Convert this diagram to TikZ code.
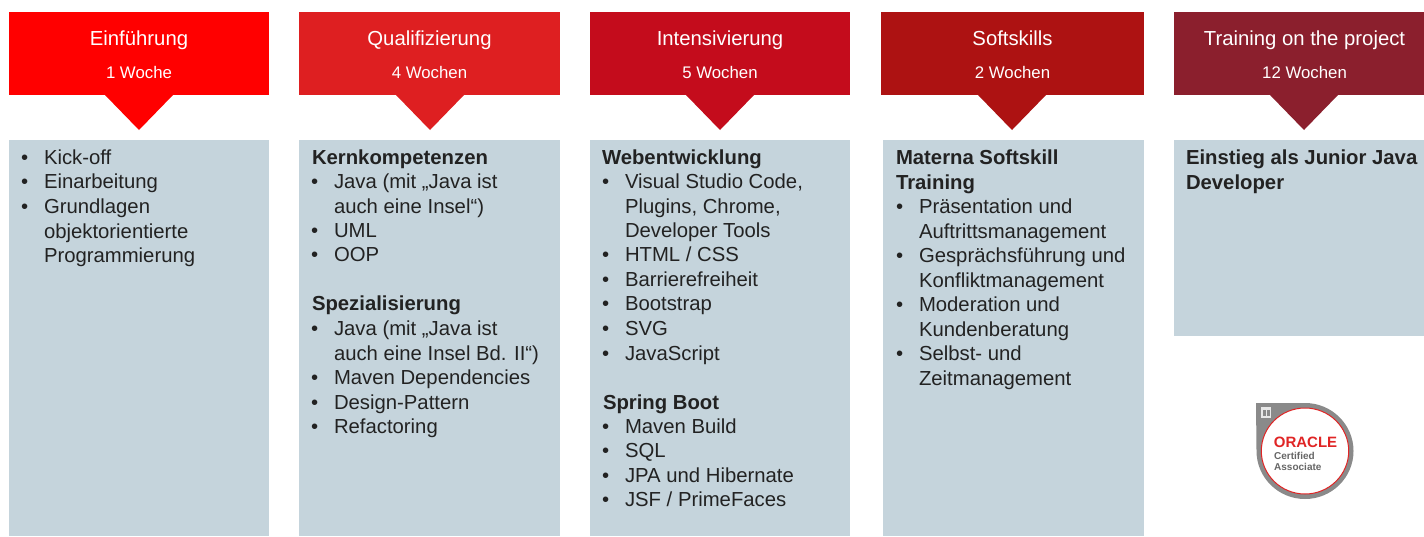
\documentclass[tikz,border=0pt]{standalone}
\usepackage{fontspec}
\setmainfont{Liberation Sans}
\definecolor{txt}{HTML}{222222}
\definecolor{panel}{HTML}{C5D4DC}
\definecolor{hA}{HTML}{FF0000}
\definecolor{hB}{HTML}{DE1F21}
\definecolor{hC}{HTML}{C40C1C}
\definecolor{hD}{HTML}{AD1212}
\definecolor{hE}{HTML}{8B1F2D}
\definecolor{badge}{HTML}{8A8A8A}
\definecolor{orared}{HTML}{E02525}
\newcount\lineno
\newcommand{\wl}[3]{\global\advance\lineno by 1 \node[bodytext] (t\the\lineno) at (#1,#2-0.2) {#3};}
\newcommand{\hl}[3]{\global\advance\lineno by 1 \node[bodytext,font=\fontsize{20.3}{24}\selectfont\bfseries] (t\the\lineno) at (#1,#2-0.2) {#3};}
\newcommand{\bu}[3]{\global\advance\lineno by 1 \node[bodytext] (b\the\lineno) at (#1,#2-0.2) {•};}
% column header: colour, left, right, tip x, title, duration
\newcommand{\colhead}[7]{%
  \fill[#2] (#3,12) rectangle (#4,95);
  \fill[#2] (#5-34,95) -- (#5+34,95) -- (#5,130) -- cycle;
  \node[headtitle] (#1title) at ({(#3+#4)/2},45.8) {#6};
  \node[headsub] (#1sub) at ({(#3+#4)/2},78) {#7};
}
\tikzset{
  x=1pt,y=-1pt,
  bodytext/.style={anchor=base west,inner sep=0pt,outer sep=0pt,text=txt,font=\fontsize{20.3}{24}\selectfont},
  headtitle/.style={anchor=base,inner sep=0pt,text=white,font=\fontsize{20.3}{24}\selectfont},
  headsub/.style={anchor=base,inner sep=0pt,text=white,font=\fontsize{16.8}{20}\selectfont},
}
\begin{document}
\begin{tikzpicture}
\useasboundingbox (0,0) rectangle (1424,536);
\fill[white] (0,0) rectangle (1424,536);
% panels
\fill[panel] (9,140) rectangle (269,536);
\fill[panel] (299,140) rectangle (560,536);
\fill[panel] (590,140) rectangle (850,536);
\fill[panel] (883,140) rectangle (1144,536);
\fill[panel] (1174,140) rectangle (1424,336);
% headers
\colhead{a}{hA}{9}{269}{139}{Einführung}{1 Woche}
\colhead{b}{hB}{299}{560}{430}{Qualifizierung}{4 Wochen}
\colhead{c}{hC}{590}{850}{720}{Intensivierung}{5 Wochen}
\colhead{d}{hD}{881}{1144}{1012}{Softskills}{2 Wochen}
\colhead{e}{hE}{1174}{1435}{1304}{Training on the project}{12 Wochen}
% column 1
\bu{21}{165}{}\wl{44}{165}{Kick-off}
\bu{21}{189}{}\wl{44}{189}{Einarbeitung}
\bu{21}{214}{}\wl{44}{214}{Grundlagen}
\wl{44}{239}{objektorientierte}
\wl{44}{263}{Programmierung}
% column 2
\hl{312}{165}{Kernkompetenzen}
\bu{311}{189}{}\wl{334}{189}{Java (mit „Java ist}
\wl{334}{214}{auch eine Insel“)}
\bu{311}{238}{}\wl{334}{238}{UML}
\bu{311}{262}{}\wl{334}{262}{OOP}
\hl{312}{311}{Spezialisierung}
\bu{311}{336}{}\wl{334}{336}{Java (mit „Java ist}
\wl{334}{361}{auch eine Insel Bd. II“)}
\bu{311}{385}{}\wl{334}{385}{Maven Dependencies}
\bu{311}{410}{}\wl{334}{410}{Design-Pattern}
\bu{311}{434}{}\wl{334}{434}{Refactoring}
% column 3
\hl{602}{165}{Webentwicklung}
\bu{602}{189}{}\wl{625}{189}{Visual Studio Code,}
\wl{625}{214}{Plugins, Chrome,}
\wl{625}{238}{Developer Tools}
\bu{602}{262}{}\wl{625}{262}{HTML / CSS}
\bu{602}{287}{}\wl{625}{287}{Barrierefreiheit}
\bu{602}{311}{}\wl{625}{311}{Bootstrap}
\bu{602}{336}{}\wl{625}{336}{SVG}
\bu{602}{361}{}\wl{625}{361}{JavaScript}
\hl{603}{410}{Spring Boot}
\bu{602}{434}{}\wl{625}{434}{Maven Build}
\bu{602}{458}{}\wl{625}{458}{SQL}
\bu{602}{483}{}\wl{625}{483}{JPA und Hibernate}
\bu{602}{507}{}\wl{625}{507}{JSF / PrimeFaces}
% column 4
\hl{896}{165}{Materna Softskill}
\hl{896}{190}{Training}
\bu{896}{214}{}\wl{919}{214}{Präsentation und}
\wl{919}{239}{Auftrittsmanagement}
\bu{896}{263}{}\wl{919}{263}{Gesprächsführung und}
\wl{919}{288}{Konfliktmanagement}
\bu{896}{312}{}\wl{919}{312}{Moderation und}
\wl{919}{337}{Kundenberatung}
\bu{896}{361}{}\wl{919}{361}{Selbst- und}
\wl{919}{386}{Zeitmanagement}
% column 5
\hl{1186}{165}{Einstieg als Junior Java}
\hl{1186}{190}{Developer}
% badge
\fill[badge] (1256,403) -- (1305,403) arc[start angle=90,end angle=-180,x radius=48.5,y radius=-48] -- (1256,403) -- cycle;
\fill[white,draw=orared,line width=1pt] (1305,451) circle[x radius=43.7,y radius=43];
\fill[white!80!badge] (1261,407) rectangle (1271,418);
\fill[badge] (1263,409.5) rectangle (1265.5,416);
\fill[badge] (1267,409.5) rectangle (1269.5,416);
\node[anchor=base,inner sep=0pt,text=orared,font=\fontsize{15}{16}\selectfont\bfseries] (oracle) at (1305.5,447) {ORACLE};
\node[anchor=base west,inner sep=0pt,text=black!60,font=\fontsize{10}{11}\selectfont\bfseries] (cert) at (1274,459) {Certified};
\node[anchor=base west,inner sep=0pt,text=black!60,font=\fontsize{10}{11}\selectfont\bfseries] (assoc) at (1274,470) {Associate};
\end{tikzpicture}
\end{document}
